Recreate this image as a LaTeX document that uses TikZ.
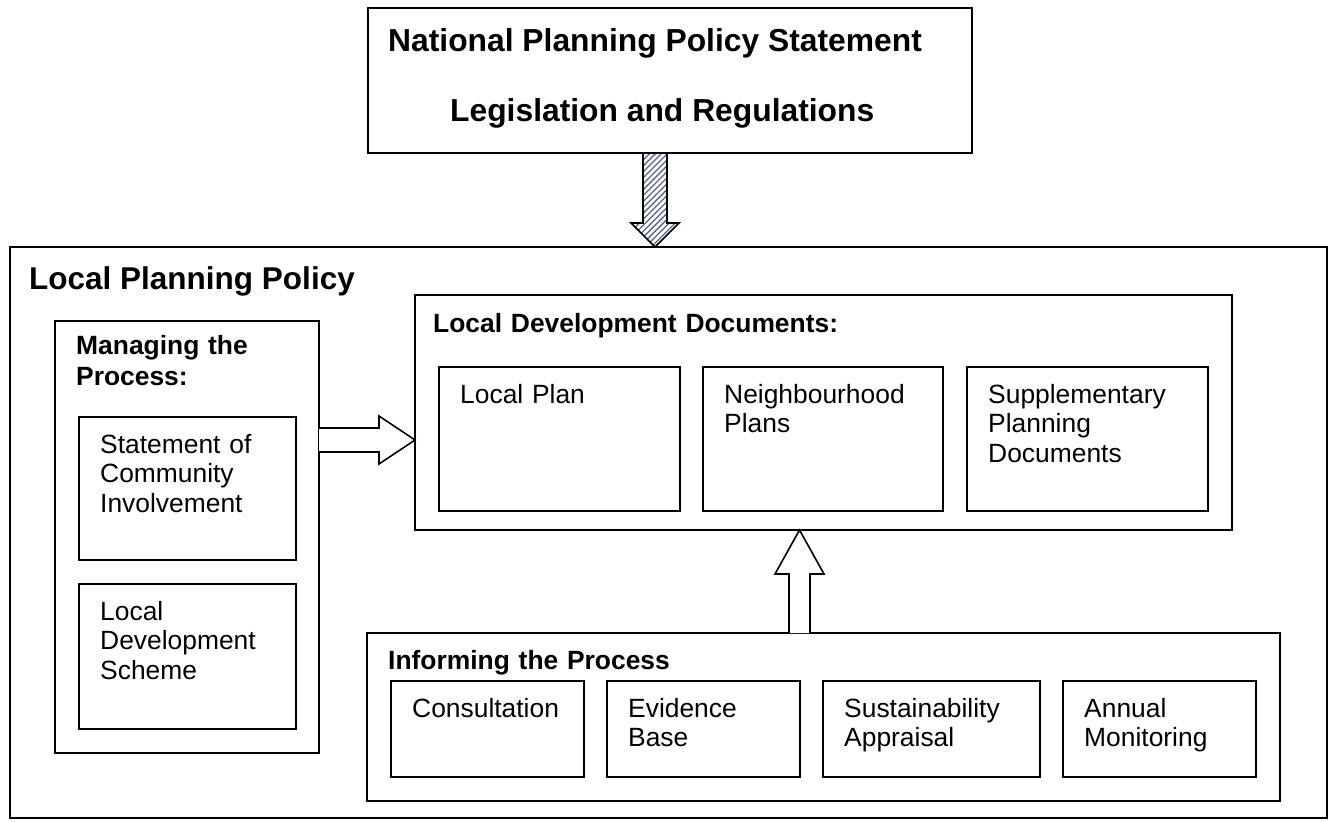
\documentclass[tikz,border=0pt]{standalone}
\usepackage{fontspec}
\setmainfont{Liberation Sans}
\usetikzlibrary{calc,patterns.meta}
\definecolor{hatchcol}{RGB}{85,100,135}
\tikzset{
  box/.style={draw=black, line width=1.6pt, fill=white, inner sep=0pt, outer sep=0pt, anchor=north west},
  txt/.style={inner sep=0pt, anchor=base west, align=left, text width=#1, font=\fontsize{26.4}{29.5}\selectfont},
  txt/.default=260pt,
  sub/.style={inner sep=0pt, anchor=base west, align=left, text width=#1, font=\fontsize{26.4}{31.5}\selectfont\bfseries},
  sub/.default=400pt,
  big/.style={inner sep=0pt, anchor=base west, font=\fontsize{#1}{#1}\selectfont\bfseries},
  blockarrow/.style={draw=black, line width=1.6pt, fill=white, line join=miter},
}
\begin{document}
\begin{tikzpicture}[x=1pt,y=-1pt]
\useasboundingbox (0,0) rectangle (1329,821);
% boxes
\node[box, minimum width=604, minimum height=145] (top) at (368,8) {};
\node[box, minimum width=1317, minimum height=571] (outer) at (10,247) {};
\node[box, minimum width=264, minimum height=432] (mgr) at (55,321) {};
\node[box, minimum width=217, minimum height=143] (sci) at (79,417) {};
\node[box, minimum width=217, minimum height=145] (lds) at (79,584) {};
\node[box, minimum width=817, minimum height=235] (ldd) at (415,295) {};
\node[box, minimum width=241, minimum height=144] (lp) at (439,367) {};
\node[box, minimum width=240, minimum height=144] (np) at (703,367) {};
\node[box, minimum width=241, minimum height=144] (spd) at (967,367) {};
\node[box, minimum width=913, minimum height=168] (inf) at (367,633) {};
\node[box, minimum width=193, minimum height=96] (con) at (391,681) {};
\node[box, minimum width=193, minimum height=96] (evb) at (607,681) {};
\node[box, minimum width=217, minimum height=96] (sus) at (823,681) {};
\node[box, minimum width=193, minimum height=96] (anm) at (1063,681) {};
% texts
\node[big=31.8] (t1) at ($(top.north west)+(20,44)$) {National Planning Policy Statement};
\node[big=31.8] (t2) at ($(top.north west)+(82,114)$) {Legislation and Regulations};
\node[big=31.5] (t3) at ($(outer.north west)+(19,42)$) {Local Planning Policy};
\node[sub] (t4) at ($(mgr.north west)+(21,33)$) {Managing the\\Process:};
\node[txt] (t5) at ($(sci.north west)+(21,36)$) {Statement of\\Community\\Involvement};
\node[txt] (t6) at ($(lds.north west)+(21,36)$) {Local\\Development\\Scheme};
\node[sub=700pt] (t7) at ($(ldd.north west)+(18,37)$) {Local Development Documents:};
\node[txt] (t8) at ($(lp.north west)+(21,36)$) {Local Plan};
\node[txt] (t9) at ($(np.north west)+(21,36)$) {Neighbourhood\\Plans};
\node[txt] (t10) at ($(spd.north west)+(21,36)$) {Supplementary\\Planning\\Documents};
\node[sub] (t11) at ($(inf.north west)+(21,36)$) {Informing the Process};
\node[txt] (t12) at ($(con.north west)+(21,36)$) {Consultation};
\node[txt] (t13) at ($(evb.north west)+(21,36)$) {Evidence\\Base};
\node[txt] (t14) at ($(sus.north west)+(21,36)$) {Sustainability\\Appraisal};
\node[txt] (t15) at ($(anm.north west)+(21,36)$) {Annual\\Monitoring};
% hatched arrow: top -> outer
\coordinate (ha) at ($(top.south west)+(287,0)$);
\coordinate (hb) at (ha |- outer.north);
\path[preaction={fill=white}, pattern={Lines[angle=45,distance=4.2pt,line width=1.3pt]}, pattern color=hatchcol, draw=black, line width=1.6pt, line join=miter]
  ($(ha)+(-12,0)$) -- ($(ha)+(12,0)$) -- ($(ha)+(12,70)$) -- ($(ha)+(24,70)$) -- (hb)
  -- ($(ha)+(-24,70)$) -- ($(ha)+(-12,70)$) -- cycle;
% right arrow: mgr -> ldd
\coordinate (ra) at ($(mgr.north east)+(0,119)$);
\coordinate (rb) at (ra -| ldd.west);
\draw[blockarrow] ($(ra)+(0,-12)$) -- ($(rb)+(-36,-12)$) -- ($(rb)+(-36,-24)$) -- (rb)
  -- ($(rb)+(-36,24)$) -- ($(rb)+(-36,12)$) -- ($(ra)+(0,12)$);
% up arrow: inf -> ldd
\coordinate (ua) at ($(inf.north west)+(432.5,0)$);
\coordinate (ub) at (ua |- ldd.south);
\draw[blockarrow] ($(ua)+(-10.5,0)$) -- ($(ub)+(-10.5,44)$) -- ($(ub)+(-24.5,44)$) -- (ub)
  -- ($(ub)+(24.5,44)$) -- ($(ub)+(10.5,44)$) -- ($(ua)+(10.5,0)$);
\end{tikzpicture}
\end{document}
